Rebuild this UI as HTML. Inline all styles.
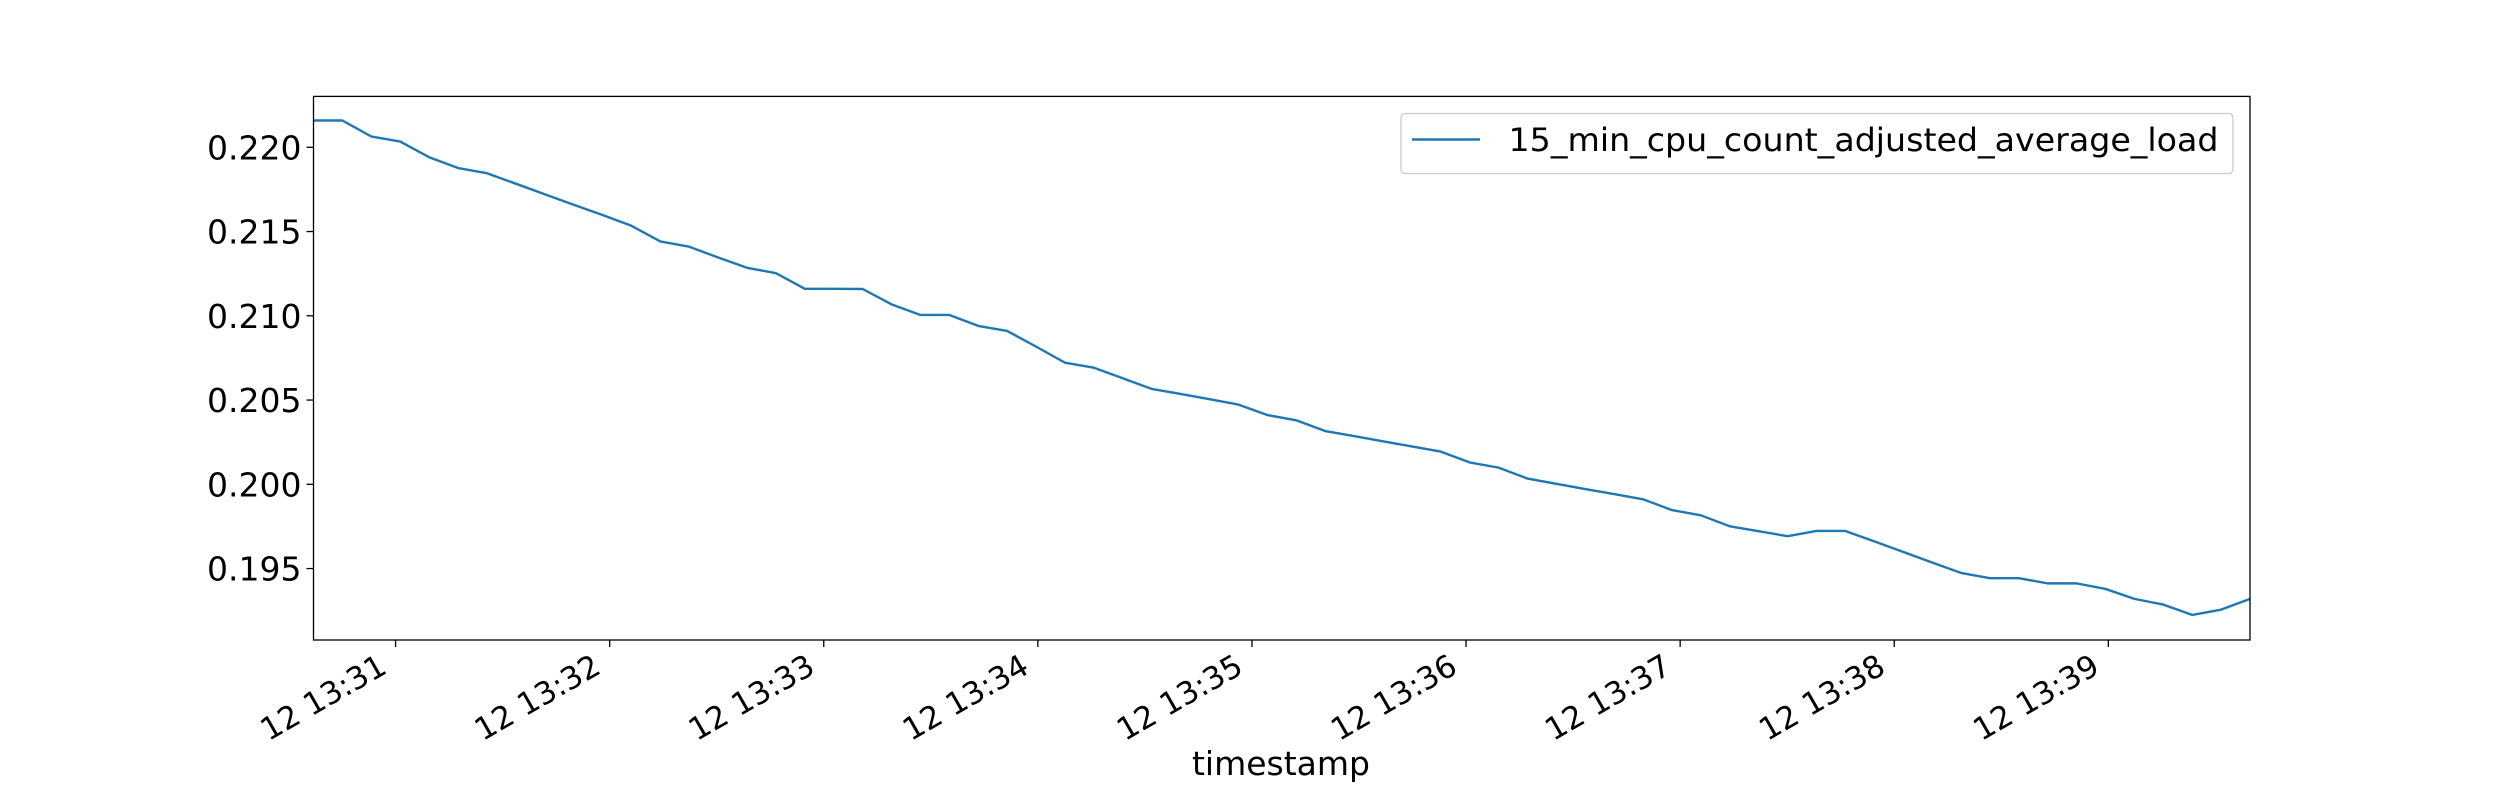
<!DOCTYPE html>
<html><head><meta charset="utf-8">
<style>
html,body{margin:0;padding:0;background:#fff;}
svg{display:block;}
text{font-family:"DejaVu Sans","Liberation Sans",sans-serif;fill:#000;}
</style></head>
<body>
<svg id="chart" width="2500" height="800" viewBox="0 0 2500 800" xmlns="http://www.w3.org/2000/svg">
<rect x="0" y="0" width="2500" height="800" fill="#fff"/>
<g id="plot"></g>
</svg>
<script>
// seconds relative to 13:31:00
const times = [];
for (let k = 0; k < 68; k++) times.push(-23 + 8.1 * k);
const loadValues = [
0.22159,0.22159,0.22064,0.22034,0.21941,0.21877,0.21846,0.21784,0.21721,0.21659,
0.21598,0.21534,0.21441,0.21410,0.21346,0.21285,0.21253,0.21160,0.21160,0.21159,
0.21068,0.21005,0.21005,0.20940,0.20910,0.20817,0.20722,0.20692,0.20629,0.20566,
0.20536,0.20505,0.20473,0.20411,0.20380,0.20316,0.20286,0.20255,0.20225,0.20194,
0.20130,0.20099,0.20034,0.20003,0.19972,0.19942,0.19911,0.19847,0.19816,0.19751,
0.19722,0.19692,0.19723,0.19723,0.19661,0.19599,0.19536,0.19474,0.19443,0.19443,
0.19412,0.19412,0.19379,0.19320,0.19286,0.19225,0.19256,0.19320];
const yTicks = [0.195,0.200,0.205,0.210,0.215,0.220];
const yTickLabels = ["0.195","0.200","0.205","0.210","0.215","0.220"];
const xTicks = [0,60,120,180,240,300,360,420,480];
const xTickLabels = ["12 13:31","12 13:32","12 13:33","12 13:34","12 13:35","12 13:36","12 13:37","12 13:38","12 13:39"];
const seriesName = "15_min_cpu_count_adjusted_average_load";

const L = 313.5, R = 2250, T = 96.4, B = 640;
const yMin = 0.19076, yMax = 0.22302;
const xMin = times[0], xMax = times[times.length - 1];
const NS = "http://www.w3.org/2000/svg";
const sx = v => L + (v - xMin) / (xMax - xMin) * (R - L);
const sy = v => B - (v - yMin) / (yMax - yMin) * (B - T);
const g = document.getElementById('plot');
function mk(tag, attrs, parent) {
  const e = document.createElementNS(NS, tag);
  for (const k in attrs) e.setAttribute(k, attrs[k]);
  (parent || g).appendChild(e);
  return e;
}

let d = '';
times.forEach((t, i) => { d += (i ? 'L' : 'M') + sx(t).toFixed(2) + ',' + sy(loadValues[i]).toFixed(2); });
const line = mk('path', {d: d, fill: 'none', stroke: '#1f77b4', 'stroke-width': 2.4, 'stroke-linejoin': 'round'});



const frame = mk('rect', {x: L, y: T, width: R - L, height: B - T, fill: 'none', stroke: '#000', 'stroke-width': 1.3});



yTicks.forEach((v, i) => {
  const y = sy(v);
  const tk = mk('line', {x1: L - 7, x2: L, y1: y, y2: y, stroke: '#000', 'stroke-width': 1.3});
  
  
  const tx = mk('text', {x: L - 12, y: y + 12, 'text-anchor': 'end', 'font-size': 33});
  tx.textContent = yTickLabels[i];
  
  
});

xTicks.forEach((v, i) => {
  const x = sx(v);
  const tk = mk('line', {x1: x, x2: x, y1: B, y2: B + 7, stroke: '#000', 'stroke-width': 1.3});
  
  
  const bx = x - 7, by = 672;
  const tx = mk('text', {x: bx, y: by, 'text-anchor': 'end', 'font-size': 31, transform: 'rotate(-30 ' + bx + ' ' + by + ')'});
  tx.textContent = xTickLabels[i];
  
  
});

const xt = mk('text', {x: 1281, y: 775, 'text-anchor': 'middle', 'font-size': 33});
xt.textContent = 'timestamp';



const lg = mk('g', {});


const lb = mk('rect', {x: 1401, y: 113.5, width: 832, height: 60, rx: 4, fill: '#fff', 'fill-opacity': 0.8, stroke: '#cccccc', 'stroke-width': 1.3}, lg);


const ll = mk('line', {x1: 1412, x2: 1480, y1: 139.5, y2: 139.5, stroke: '#1f77b4', 'stroke-width': 2.4}, lg);


const lt = mk('text', {x: 1508.5, y: 151, 'font-size': 32, textLength: 710, lengthAdjust: 'spacingAndGlyphs'}, lg);
lt.textContent = seriesName;


</script>
</body></html>
